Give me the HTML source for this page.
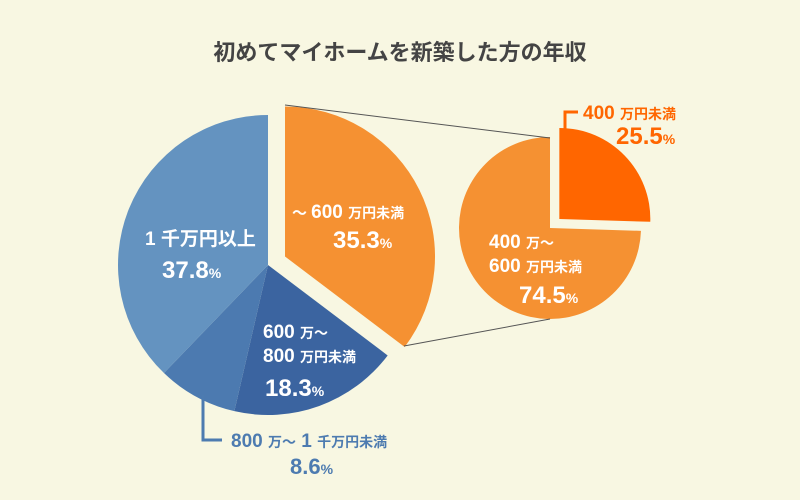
<!DOCTYPE html>
<html><head><meta charset="utf-8"><style>
html,body{margin:0;padding:0;background:#f8f7e2;}
svg{display:block;font-family:"Liberation Sans","Noto Sans CJK JP",sans-serif;font-weight:bold;}
</style></head><body>
<svg id="c" width="800" height="500" viewBox="0 0 800 500">
<rect width="800" height="500" fill="#f8f7e2"/>
<text x="400" y="60" text-anchor="middle" font-size="22" fill="#444">初めてマイホームを新築した方の年収</text>
<g id="main"></g><g id="sub"></g>
<line x1="285" y1="105" x2="550" y2="138" stroke="#555" stroke-width="1"/>
<line x1="404" y1="346" x2="550" y2="319" stroke="#555" stroke-width="1"/>
<g fill="#fff">
<text x="145" y="245" font-size="19">1 千万円以上</text>
<text x="162" y="278" font-size="24">37.8<tspan font-size="14">%</tspan></text>
<text x="292" y="218" font-size="19"><tspan font-size="15">～ </tspan>600 <tspan font-size="14">万円未満</tspan></text>
<text x="333" y="248" font-size="24">35.3<tspan font-size="14">%</tspan></text>
<text x="263" y="338" font-size="19">600 <tspan font-size="14">万～</tspan></text>
<text x="263" y="362" font-size="19">800 <tspan font-size="14">万円未満</tspan></text>
<text x="265" y="396" font-size="24">18.3<tspan font-size="14">%</tspan></text>
<text x="489" y="248" font-size="19">400 <tspan font-size="14">万～</tspan></text>
<text x="489" y="272" font-size="19">600 <tspan font-size="14">万円未満</tspan></text>
<text x="519" y="303" font-size="24">74.5<tspan font-size="14">%</tspan></text>
</g>
<polyline points="565,138 565,112 578,112" fill="none" stroke="#ff6600" stroke-width="3"/>
<text x="583" y="119" font-size="19" fill="#ff6600">400 <tspan font-size="14">万円未満</tspan></text>
<text x="616" y="144" font-size="24" fill="#ff6600">25.5<tspan font-size="14">%</tspan></text>
<polyline points="203,395 203,440 222,440" fill="none" stroke="#4d7bb0" stroke-width="3"/>
<text x="231" y="447" font-size="19" fill="#4d7bb0">800 <tspan font-size="14">万～</tspan> 1 <tspan font-size="14">千万円未満</tspan></text>
<text x="290" y="474" font-size="22" fill="#4d7bb0">8.6<tspan font-size="14">%</tspan></text>
</svg>
<script>
const mainCategories=["~600万円未満","600万~800万円未満","800万~1千万円未満","1千万円以上"];
const mainValues=[35.3,18.3,8.6,37.8];
const mainColors=["#f59132","#3b64a0","#4c7ab0","#6493c0"];
const mainExplode=[19,0,0,0];
const subCategories=["400万円未満","400万~600万円未満"];
const subValues=[25.5,74.5];
const subColors=["#ff6600","#f59132"];
const subExplode=[13,0];
const NS="http://www.w3.org/2000/svg";
function pt(cx,cy,r,a){return [cx+r*Math.sin(a),cy-r*Math.cos(a)];}
function drawPie(g,vals,cols,ex,cx,cy,r,names){
  const tot=vals.reduce((a,b)=>a+b,0);let a0=0;
  vals.forEach((v,i)=>{
    const a1=a0+v/tot*2*Math.PI,m=(a0+a1)/2;
    const ox=ex[i]*Math.sin(m),oy=-ex[i]*Math.cos(m);
    const p0=pt(cx+ox,cy+oy,r,a0),p1=pt(cx+ox,cy+oy,r,a1);
    const p=document.createElementNS(NS,"path");
    p.setAttribute("d",`M${cx+ox},${cy+oy}L${p0[0]},${p0[1]}A${r},${r} 0 ${a1-a0>Math.PI?1:0} 1 ${p1[0]},${p1[1]}Z`);
    p.setAttribute("fill",cols[i]);
    
    
    g.appendChild(p);a0=a1;
  });
}
drawPie(document.getElementById("main"),mainValues,mainColors,mainExplode,268,265,150,mainCategories);
drawPie(document.getElementById("sub"),subValues,subColors,subExplode,550,228,91,subCategories);
</script>
</body></html>
